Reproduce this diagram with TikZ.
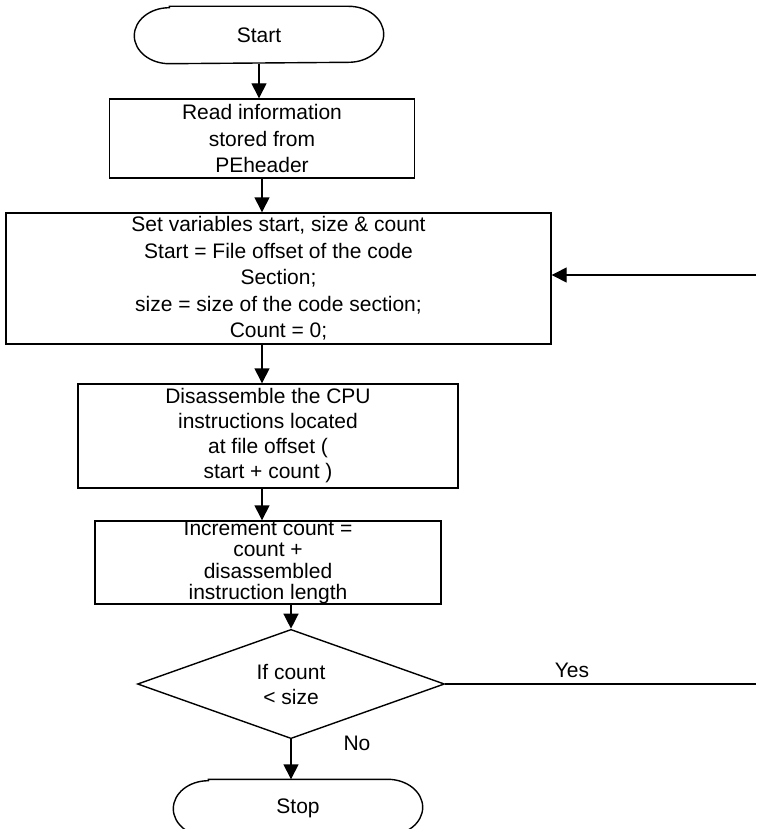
\documentclass[tikz,border=0pt]{standalone}
\usepackage{fontspec}
\setmainfont{Liberation Sans}
\usetikzlibrary{shapes.geometric,arrows.meta}

\begin{document}
\begin{tikzpicture}[x=0.5pt,y=-0.5pt,
  box/.style={draw,line width=0.7pt,align=center,inner sep=0pt,font=\fontsize{10.5}{13.2}\selectfont},
  term/.style={box,draw=none,minimum width=124pt,minimum height=28pt},
  lbl/.style={inner sep=0pt,font=\fontsize{10.5}{13}\selectfont},
  link/.style={line width=0.7pt},
  arr/.style={link,-{Triangle[length=7.5pt,width=7.5pt]}}]
\useasboundingbox (0,0) rectangle (756,829);

\node[term] (start) at (259,35) {Start};
\node[box,minimum width=152.5pt,minimum height=39.5pt] (read) at (262,138.5) {Read information\\stored from\\PEheader};
\node[box,minimum width=272.5pt,minimum height=65.5pt] (setvars) at (278.5,278.5) {Set variables start, size \& count\\Start = File offset of the code\\Section;\\size = size of the code section;\\Count = 0;};
\node[box,minimum width=190pt,minimum height=52pt,font=\fontsize{10.5}{12.5}\selectfont] (disasm) at (268,436) {Disassemble the CPU\\instructions located\\at file offset (\\start + count )};
\node[box,minimum width=173pt,minimum height=41.5pt,font=\fontsize{10.5}{10.6}\selectfont] (incr) at (268,562.5) {Increment count =\\count +\\disassembled\\instruction length};
\node[box,diamond,minimum width=153.5pt,minimum height=41pt,font=\fontsize{10.5}{12.5}\selectfont] (cond) at (291,684) {If count\\< size};
\node[term] (stop) at (298,808) {Stop};

\foreach \t in {start,stop}
  \draw[link] ([xshift=17.5pt]\t.north west) -- ([xshift=-17.5pt]\t.north east)
    arc[start angle=90,end angle=-90,x radius=17.5pt,y radius=14pt]
    -- ([xshift=17.5pt]\t.south west)
    arc[start angle=270,end angle=90,x radius=17.5pt,y radius=14pt] -- cycle;

\node[lbl] (yes) at (572,670) {Yes};
\node[lbl] (no) at (357,743) {No};
\coordinate (loopend) at (756,684);
\coordinate (loopin) at (756,275);

\draw[arr] (start.south) -- (start.south |- read.north);
\draw[arr] (read.south) -- (read.south |- setvars.north);
\draw[arr] (read.south |- setvars.south) -- (read.south |- disasm.north);
\draw[arr] (read.south |- disasm.south) -- (read.south |- incr.north);
\draw[arr] (cond.north |- incr.south) -- (cond.north);
\draw[arr] (cond.south) -- (cond.south |- stop.north);
\draw[link] (cond.east) -- (loopend);
\draw[arr] (loopin) -- (setvars.east |- loopin);
\end{tikzpicture}
\end{document}
